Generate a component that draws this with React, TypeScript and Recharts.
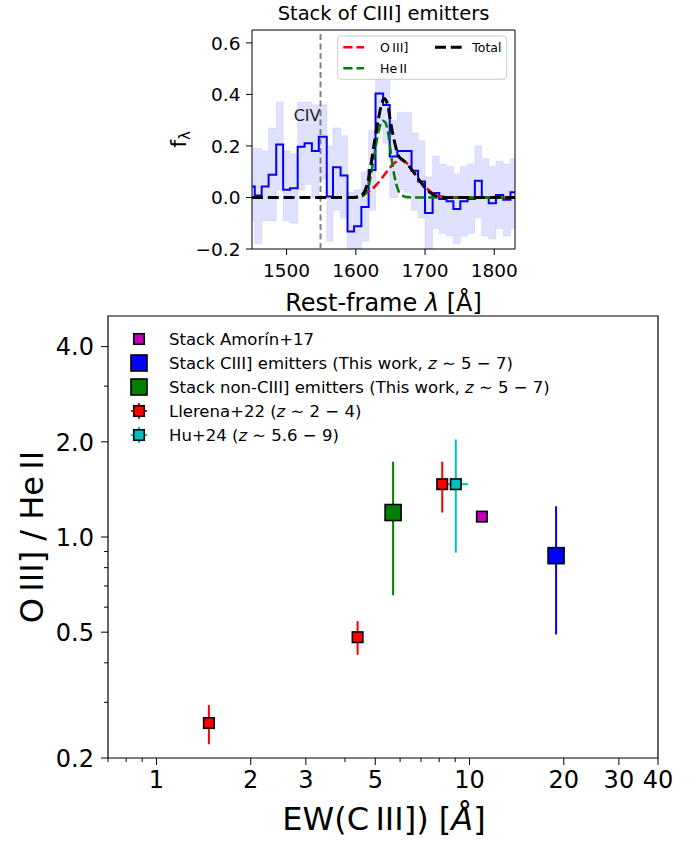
import React from 'react';
import {
  ComposedChart,
  ScatterChart,
  Scatter,
  Line,
  Area,
  XAxis,
  YAxis,
  ReferenceLine,
  ReferenceArea,
  ErrorBar,
} from 'recharts';

const FONT = '"DejaVu Sans", sans-serif';

// ---- inset: stacked spectrum of CIII] emitters ----
const binStart = [1450, 1454, 1464, 1474, 1485, 1495, 1505, 1516, 1526, 1536.5, 1546.5, 1558, 1567, 1578, 1588, 1597.5, 1608, 1618.5, 1628.5, 1639.5, 1649, 1660, 1670, 1680.5, 1690, 1700, 1711, 1720.5, 1731, 1741, 1751, 1761.5, 1772, 1782, 1792, 1802.5, 1813, 1823.5];
const stackFlux = [0.043, 0.008, 0.043, 0.088, 0.206, 0.03, 0.036, 0.197, 0.21, 0.18, 0.236, 0.004, 0.117, 0.085, -0.132, -0.112, -0.037, 0.107, 0.404, 0.359, 0.159, 0.18, 0.18, 0.104, 0.062, -0.06, 0.017, -0.006, -0.015, -0.045, -0.015, -0.006, 0.065, 0, -0.022, 0.01, -0.009, 0.02];
const fluxLow = [-0.09, -0.18, -0.09, -0.09, 0.03, -0.09, -0.1, 0.03, 0.05, 0.0, 0.07, -0.17, -0.05, -0.08, -0.2, -0.2, -0.17, -0.05, 0.26, 0.21, 0.0, 0.03, 0.02, -0.05, -0.08, -0.2, -0.12, -0.14, -0.15, -0.18, -0.15, -0.14, -0.08, -0.15, -0.16, -0.12, -0.15, -0.12];
const fluxHigh = [0.19, 0.19, 0.18, 0.27, 0.37, 0.18, 0.17, 0.37, 0.37, 0.36, 0.36, 0.2, 0.27, 0.24, 0.02, 0.03, 0.1, 0.26, 0.52, 0.5, 0.3, 0.33, 0.33, 0.25, 0.22, 0.08, 0.16, 0.13, 0.12, 0.09, 0.12, 0.13, 0.2, 0.15, 0.12, 0.14, 0.13, 0.15];
const SPEC_END = 1830;

const oiiiWave = [1590, 1600, 1610, 1620, 1630, 1640, 1650, 1658, 1666, 1674, 1682, 1690, 1700, 1710, 1720, 1730, 1745, 1830];
const oiiiFlux = [0, 0.002, 0.01, 0.025, 0.05, 0.083, 0.118, 0.138, 0.146, 0.132, 0.104, 0.075, 0.042, 0.018, 0.006, 0.001, 0, 0];
const heiiWave = [1590, 1600, 1608, 1614, 1619, 1624, 1629, 1634, 1639, 1643, 1647, 1651, 1656, 1661, 1667, 1675, 1690, 1830];
const heiiFlux = [0, 0, 0.003, 0.015, 0.05, 0.12, 0.2, 0.27, 0.298, 0.29, 0.245, 0.165, 0.08, 0.03, 0.008, 0.001, 0, 0];
const totalWave = [1450, 1595, 1605, 1612, 1619, 1626, 1633, 1638, 1641, 1646, 1651, 1656, 1662, 1668, 1675, 1683, 1692, 1702, 1712, 1722, 1735, 1830];
const totalFlux = [0, 0, 0.004, 0.02, 0.08, 0.2, 0.31, 0.37, 0.384, 0.36, 0.28, 0.215, 0.16, 0.145, 0.127, 0.1, 0.065, 0.032, 0.011, 0.002, 0, 0];

const CIV_WAVE = 1549;

// ---- main: OIII]/HeII vs EW(CIII]) ----
const amorinEW = [10.95];
const amorinRatio = [1.16];

const stackEW = [18.9];
const stackRatio = [0.873];
const stackLow = [0.492];
const stackHigh = [1.251];

const nonStackEW = [5.7];
const nonStackRatio = [1.195];
const nonStackLow = [0.654];
const nonStackHigh = [1.73];

const llerenaEW = [1.47, 4.39, 8.18];
const llerenaRatio = [0.258, 0.482, 1.469];
const llerenaLow = [0.221, 0.424, 1.195];
const llerenaHigh = [0.294, 0.542, 1.73];

const huEW = [9.04];
const huEWLow = [8.5];
const huEWHigh = [9.88];
const huRatio = [1.469];
const huLow = [0.892];
const huHigh = [2.035];

const xMajor = [1, 2, 3, 5, 10, 20, 30, 40];
const xMinor = [0.7, 0.8, 0.9, 4, 6, 7, 8, 9];
const yMajor = [0.2, 0.5, 1, 2, 4];
const yMinor = [0.3, 0.4, 0.6, 0.7, 0.8, 0.9, 3];

const specRows = binStart
  .map((w, i) => ({ w, f: stackFlux[i], band: [fluxLow[i], fluxHigh[i]] }))
  .concat([{ w: SPEC_END, f: stackFlux[stackFlux.length - 1], band: [fluxLow[fluxLow.length - 1], fluxHigh[fluxHigh.length - 1]] }]);
const curve = (ws: number[], fs: number[]) => ws.map((w, i) => ({ w, f: fs[i] }));

const points = (xs: number[], ys: number[], lo?: number[], hi?: number[], xlo?: number[], xhi?: number[]) =>
  xs.map((x, i) => ({
    x,
    y: ys[i],
    ey: lo && hi ? [ys[i] - lo[i], hi[i] - ys[i]] : [0, 0],
    ex: xlo && xhi ? [x - xlo[i], xhi[i] - x] : [0, 0],
  }));

const bottomTick = (majors: number[], fmt: (v: number) => string, fs: number, majLen: number, minLen: number, base: number) =>
  (p: any) => {
    const v = p.payload.value;
    const isMajor = majors.includes(v);
    return (
      <g>
        <line x1={p.x} x2={p.x} y1={p.y} y2={p.y + (isMajor ? majLen : minLen)} stroke="#000" strokeWidth={1} />
        {isMajor && (
          <text x={p.x} y={p.y + base} textAnchor="middle" fontSize={fs} fontFamily={FONT} fill="#000">
            {fmt(v)}
          </text>
        )}
      </g>
    );
  };

const leftTick = (majors: number[], fmt: (v: number) => string, fs: number, majLen: number, minLen: number, gap: number) =>
  (p: any) => {
    const v = p.payload.value;
    const isMajor = majors.includes(v);
    return (
      <g>
        <line x1={p.x} x2={p.x - (isMajor ? majLen : minLen)} y1={p.y} y2={p.y} stroke="#000" strokeWidth={1} />
        {isMajor && (
          <text x={p.x - gap} y={p.y + fs * 0.365} textAnchor="end" fontSize={fs} fontFamily={FONT} fill="#000">
            {fmt(v)}
          </text>
        )}
      </g>
    );
  };

const square = (size: number, fill: string) => (p: any) => (
  <rect x={p.cx - size / 2} y={p.cy - size / 2} width={size} height={size} fill={fill} stroke="#000" strokeWidth={1.6} />
);

const minus = (v: number) => (v < 0 ? '\u2212' + Math.abs(v).toFixed(1) : v.toFixed(1));

const Z = () => <tspan fontStyle="italic">z</tspan>;

const App: React.FC = () => {
  return (
    <div style={{ position: 'absolute', left: 0, top: 0, width: 698, height: 841, background: '#fff', fontFamily: FONT }}>
      <div style={{ position: 'absolute', left: 0, top: 0 }}>
        <ComposedChart width={698} height={300} data={specRows} margin={{ top: 30, right: 183, bottom: 21, left: 192 }}>
          <XAxis
            type="number"
            dataKey="w"
            domain={[1450, 1830]}
            allowDataOverflow
            ticks={[1500, 1600, 1700, 1800]}
            interval={0}
            height={30}
            axisLine={false}
            tickLine={false}
            tickSize={0}
            tickMargin={0}
            tick={bottomTick([1500, 1600, 1700, 1800], (v) => String(v), 18.5, 6, 3, 27.5)}
          />
          <YAxis
            type="number"
            domain={[-0.2, 0.65]}
            allowDataOverflow
            ticks={[-0.2, 0, 0.2, 0.4, 0.6]}
            interval={0}
            width={60}
            axisLine={false}
            tickLine={false}
            tickSize={0}
            tickMargin={0}
            tick={leftTick([-0.2, 0, 0.2, 0.4, 0.6], minus, 18.5, 6, 3, 11.5)}
          />
          <Area dataKey="band" type="stepAfter" fill="#0000ff" fillOpacity={0.12} stroke="#0000ff" strokeOpacity={0.08} isAnimationActive={false} />
          <ReferenceLine x={CIV_WAVE} stroke="#808080" strokeWidth={2} strokeDasharray="6 3.5" />
          <Line dataKey="f" type="stepAfter" stroke="#0000ff" strokeWidth={2} dot={false} isAnimationActive={false} />
          <Line data={curve(oiiiWave, oiiiFlux)} dataKey="f" type="monotone" stroke="#ff0000" strokeWidth={2.5} strokeDasharray="9.25 4" dot={false} isAnimationActive={false} />
          <Line data={curve(heiiWave, heiiFlux)} dataKey="f" type="monotone" stroke="#008000" strokeWidth={2.5} strokeDasharray="9.25 4" dot={false} isAnimationActive={false} />
          <Line data={curve(totalWave, totalFlux)} dataKey="f" type="monotone" stroke="#000000" strokeWidth={3} strokeDasharray="11 4.8" dot={false} isAnimationActive={false} />
          <ReferenceArea x1={1450} x2={1830} y1={-0.2} y2={0.65} fill="none" stroke="#000" strokeWidth={1} />
        </ComposedChart>
      </div>

      <div style={{ position: 'absolute', left: 0, top: 300 }}>
        <ScatterChart width={698} height={541} margin={{ top: 16, right: 40, bottom: 43, left: 48 }}>
          <XAxis
            type="number"
            dataKey="x"
            scale="log"
            domain={[0.7, 40]}
            allowDataOverflow
            ticks={[...xMinor, ...xMajor].sort((a, b) => a - b)}
            interval={0}
            height={40}
            axisLine={false}
            tickLine={false}
            tickSize={0}
            tickMargin={0}
            tick={bottomTick(xMajor, (v) => String(v), 24, 7, 4, 30)}
          />
          <YAxis
            type="number"
            dataKey="y"
            scale="log"
            domain={[0.2, 5]}
            allowDataOverflow
            ticks={[...yMinor, ...yMajor].sort((a, b) => a - b)}
            interval={0}
            width={60}
            axisLine={false}
            tickLine={false}
            tickSize={0}
            tickMargin={0}
            tick={leftTick(yMajor, (v) => v.toFixed(1), 24, 7, 4, 14)}
          />
          <Scatter data={points(amorinEW, amorinRatio)} shape={square(10.5, '#bf00bf')} isAnimationActive={false} />
          <Scatter data={points(stackEW, stackRatio, stackLow, stackHigh)} shape={square(16, '#0000ff')} isAnimationActive={false}>
            <ErrorBar dataKey="ey" direction="y" width={0} stroke="#0000ff" strokeWidth={2} />
          </Scatter>
          <Scatter data={points(nonStackEW, nonStackRatio, nonStackLow, nonStackHigh)} shape={square(16, '#008000')} isAnimationActive={false}>
            <ErrorBar dataKey="ey" direction="y" width={0} stroke="#008000" strokeWidth={2} />
          </Scatter>
          <Scatter data={points(llerenaEW, llerenaRatio, llerenaLow, llerenaHigh)} shape={square(10.5, '#ff0000')} isAnimationActive={false}>
            <ErrorBar dataKey="ey" direction="y" width={0} stroke="#ff0000" strokeWidth={2} />
          </Scatter>
          <Scatter data={points(huEW, huRatio, huLow, huHigh, huEWLow, huEWHigh)} shape={square(10.5, '#00bfbf')} isAnimationActive={false}>
            <ErrorBar dataKey="ey" direction="y" width={0} stroke="#00bfbf" strokeWidth={2} />
            <ErrorBar dataKey="ex" direction="x" width={0} stroke="#00bfbf" strokeWidth={2} />
          </Scatter>
          <ReferenceArea x1={0.7} x2={40} y1={0.2} y2={5} fill="none" stroke="#000" strokeWidth={1.2} />
        </ScatterChart>
      </div>

      <svg width={698} height={841} style={{ position: 'absolute', left: 0, top: 0, pointerEvents: 'none' }} fontFamily={FONT}>
        {/* inset texts */}
        <text x={383.5} y={19.5} textAnchor="middle" fontSize={19.5} fill="#000">Stack of CIII] emitters</text>
        <text x={383.5} y={310.5} textAnchor="middle" fontSize={24} fill="#000">
          Rest-frame <tspan fontStyle="italic">λ</tspan> [Å]
        </text>
        <text x={186} y={139.5} textAnchor="middle" fontSize={22} fill="#000" transform="rotate(-90 186 139.5)">
          f<tspan fontSize={15} dy={4}>λ</tspan>
        </text>
        <text x={320.5} y={121} textAnchor="end" fontSize={16} fill="#222">CIV</text>

        {/* inset legend */}
        <rect x={337.7} y={36} width={169} height={43.3} rx={3} fill="#fff" fillOpacity={0.8} stroke="#cccccc" strokeWidth={1} />
        <line x1={343.3} x2={364} y1={47.3} y2={47.3} stroke="#ff0000" strokeWidth={2.5} strokeDasharray="9.25 4" />
        <text x={380} y={51.8} fontSize={12.5} fill="#000">O{'\u2009'}III]</text>
        <line x1={343.3} x2={364} y1={68.3} y2={68.3} stroke="#008000" strokeWidth={2.5} strokeDasharray="9.25 4" />
        <text x={380} y={72.8} fontSize={12.5} fill="#000">He{'\u2009'}II</text>
        <line x1={435} x2={461.7} y1={47.3} y2={47.3} stroke="#000" strokeWidth={3} strokeDasharray="11 4.8" />
        <text x={472.3} y={51.8} fontSize={12.5} fill="#000">Total</text>

        {/* main axis labels */}
        <text x={384} y={830} textAnchor="middle" fontSize={32} fill="#000">
          EW(C{'\u2009'}III]) [<tspan fontStyle="italic">Å</tspan>]
        </text>
        <text x={43} y={537} textAnchor="middle" fontSize={32} fill="#000" transform="rotate(-90 43 537)">
          O{'\u2009'}III] / He{'\u2009'}II
        </text>

        {/* main legend */}
        <rect x={133.75} y={333.75} width={10.5} height={10.5} fill="#bf00bf" stroke="#000" strokeWidth={1.6} />
        <text x={169} y={345} fontSize={16.5} fill="#000">Stack Amorín+17</text>
        <rect x={131} y={355} width={16} height={16} fill="#0000ff" stroke="#000" strokeWidth={1.6} />
        <text x={169} y={369} fontSize={16.5} fill="#000">
          Stack CIII] emitters (This work, <Z /> ∼ 5 − 7)
        </text>
        <rect x={131} y={379} width={16} height={16} fill="#008000" stroke="#000" strokeWidth={1.6} />
        <text x={169} y={393} fontSize={16.5} fill="#000">
          Stack non-CIII] emitters (This work, <Z /> ∼ 5 − 7)
        </text>
        <line x1={131} x2={147} y1={411} y2={411} stroke="#ff0000" strokeWidth={2} />
        <line x1={139} x2={139} y1={403} y2={419} stroke="#ff0000" strokeWidth={2} />
        <rect x={133.75} y={405.75} width={10.5} height={10.5} fill="#ff0000" stroke="#000" strokeWidth={1.6} />
        <text x={169} y={417} fontSize={16.5} fill="#000">
          Llerena+22 (<Z /> ∼ 2 − 4)
        </text>
        <line x1={131} x2={147} y1={435} y2={435} stroke="#00bfbf" strokeWidth={2} />
        <line x1={139} x2={139} y1={427} y2={443} stroke="#00bfbf" strokeWidth={2} />
        <rect x={133.75} y={429.75} width={10.5} height={10.5} fill="#00bfbf" stroke="#000" strokeWidth={1.6} />
        <text x={169} y={441} fontSize={16.5} fill="#000">
          Hu+24 (<Z /> ∼ 5.6 − 9)
        </text>
      </svg>
    </div>
  );
};

export default App;
